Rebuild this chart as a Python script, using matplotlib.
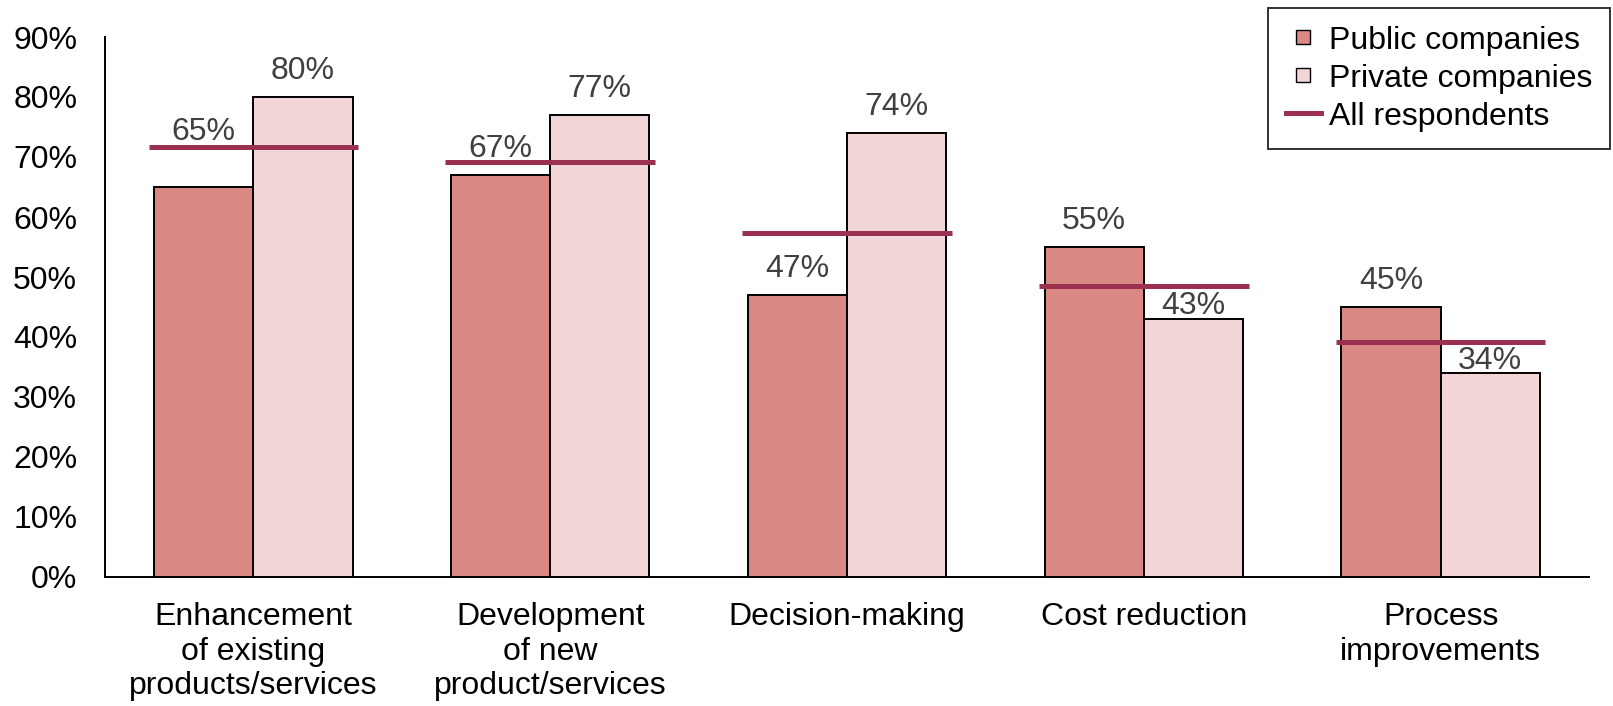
import numpy as np
import matplotlib.pyplot as plt
from matplotlib.lines import Line2D

plt.rcParams['font.family'] = ['Liberation Sans', 'DejaVu Sans']

categories = ["Enhancement\nof existing\nproducts/services",
              "Development\nof new\nproduct/services",
              "Decision-making",
              "Cost reduction",
              "Process\nimprovements"]
public = [65, 67, 47, 55, 45]
private = [80, 77, 74, 43, 34]
all_resp = [71.7, 69.1, 57.4, 48.5, 39.2]
yticks = [0, 10, 20, 30, 40, 50, 60, 70, 80, 90]

# label offsets above the bar top (points), some moved to dodge the line
pub_off = [34, 13, 13, 13, 13]
prv_off = [13, 13, 13, 3.6, 3]

c_pub = "#d98883"
c_prv = "#f2d6d7"
c_line = "#9c3050"
fs = 23

fig = plt.figure(figsize=(16.13, 7.06), dpi=100)
ax = fig.add_axes([105/1613, 129/706, 1484/1613, 540/706])

x = np.arange(len(categories))
w = 0.334
ax.bar(x - w/2, public, w, color=c_pub, edgecolor="black", linewidth=1.4)
ax.bar(x + w/2, private, w, color=c_prv, edgecolor="black", linewidth=1.4)
ax.hlines(all_resp, x - 0.353, x + 0.353, color=c_line, linewidth=3.6, zorder=3)

for xi, v, o in zip(x - w/2, public, pub_off):
    ax.annotate(f"{v}%", (xi, v), xytext=(0, o), textcoords="offset points",
                ha="center", va="baseline", fontsize=fs, color="#404040")
for xi, v, o in zip(x + w/2, private, prv_off):
    ax.annotate(f"{v}%", (xi, v), xytext=(0, o), textcoords="offset points",
                ha="center", va="baseline", fontsize=fs, color="#404040")

ax.set_xlim(-0.5, 4.5)
ax.set_ylim(0, 90)
ax.set_yticks(yticks)
ax.set_yticklabels([f"{t}%" for t in yticks], fontsize=fs)
ax.set_xticks(x)
ax.set_xticklabels(categories, fontsize=fs, linespacing=1.2)
ax.tick_params(axis="y", length=0, pad=20)
ax.tick_params(axis="x", length=0, pad=18)
for s in ["top", "right"]:
    ax.spines[s].set_visible(False)
for s in ["left", "bottom"]:
    ax.spines[s].set_linewidth(1.4)

handles = [Line2D([], [], marker="s", markersize=9.5, markerfacecolor=c_pub,
                  markeredgecolor="black", markeredgewidth=1, linestyle="none"),
           Line2D([], [], marker="s", markersize=9.5, markerfacecolor=c_prv,
                  markeredgecolor="black", markeredgewidth=1, linestyle="none"),
           Line2D([0], [0], color=c_line, linewidth=3.6)]
leg = fig.legend(handles, ["Public companies", "Private companies", "All respondents"],
                 loc="upper right", bbox_to_anchor=(1610/1613, 1 - 8/706),
                 fontsize=fs, frameon=True, fancybox=False, borderaxespad=0,
                 handlelength=1.1, handletextpad=0.25,
                 labelspacing=0.25, borderpad=0.55)
leg.get_frame().set_edgecolor("black")
leg.get_frame().set_linewidth(1.4)

fig.savefig("out.png", dpi=100)
